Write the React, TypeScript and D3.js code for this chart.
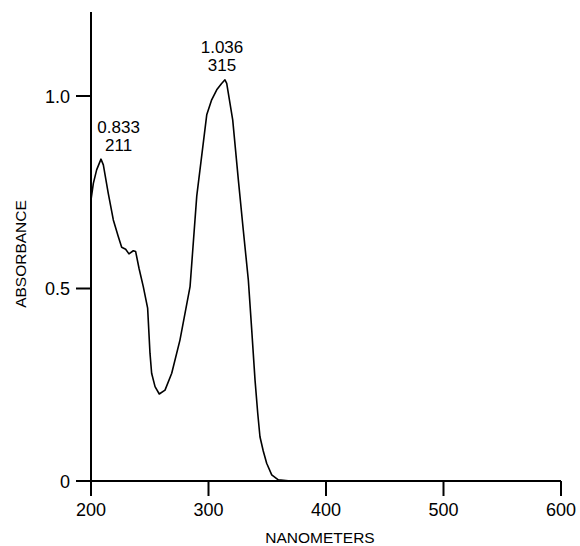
import React from "react";
import * as d3 from "d3";

const wavelengths = [200, 202, 204.8, 208.5, 210.5, 214.7, 219, 223.2, 226.1, 229.5, 232.3, 236, 238, 240.9, 244.5, 248.2, 250.2, 251.6, 254.5, 258.1, 263, 268.7, 275.7, 284.3, 290, 298.5, 302.7, 307, 311, 314, 315.5, 320.6, 325.4, 329.6, 333.9, 336.8, 339.6, 341.9, 343.8, 346.6, 349.5, 353.8, 359.4, 370, 600];
const absorbance = [0.73, 0.773, 0.808, 0.836, 0.821, 0.747, 0.678, 0.635, 0.607, 0.602, 0.59, 0.598, 0.596, 0.552, 0.505, 0.449, 0.332, 0.28, 0.245, 0.226, 0.236, 0.28, 0.366, 0.505, 0.74, 0.951, 0.99, 1.016, 1.032, 1.042, 1.033, 0.938, 0.782, 0.652, 0.522, 0.392, 0.262, 0.176, 0.115, 0.078, 0.046, 0.016, 0.003, 0, 0];

const xTicks = [200, 300, 400, 500, 600];
const yTicks = [0, 0.5, 1.0];
const yTickLabels = ["0", "0.5", "1.0"];

const peakValues = ["0.833", "1.036"];
const peakWavelengths = ["211", "315"];
const peakAbs = [0.833, 1.036];
const peakLabelNm = [223.5, 311.5];

export default function App() {
  const x = d3.scaleLinear().domain([200, 600]).range([91, 561]);
  const y = d3.scaleLinear().domain([0, 1]).range([481, 96]);
  const yTop = 1.218;
  const tick = 15;
  const data = wavelengths.map((w, i) => [w, absorbance[i]] as [number, number]);
  const line = d3
    .line<[number, number]>()
    .x((d) => x(d[0]))
    .y((d) => y(d[1]))
    .curve(d3.curveLinear);
  const font = "'Liberation Sans', Arial, Helvetica, sans-serif";

  return (
    <svg
      width={580}
      height={546}
      style={{ position: "absolute", left: 0, top: 0, background: "#fff" }}
      fontFamily={font}
    >
      <rect x={0} y={0} width={580} height={546} fill="#fff" />
      <line x1={x(200)} x2={x(200)} y1={y(yTop)} y2={y(0) + tick} stroke="#000" strokeWidth={2} />
      <line x1={x(200) - tick} x2={x(600)} y1={y(0)} y2={y(0)} stroke="#000" strokeWidth={2} />
      {xTicks.map((t) => (
        <g key={"x" + t}>
          <line x1={x(t)} x2={x(t)} y1={y(0)} y2={y(0) + tick} stroke="#000" strokeWidth={2} />
          <text x={x(t)} y={516} textAnchor="middle" fontSize={18} fill="#000">
            {t}
          </text>
        </g>
      ))}
      {yTicks.map((t, i) => (
        <g key={"y" + t}>
          <line x1={x(200) - tick} x2={x(200)} y1={y(t)} y2={y(t)} stroke="#000" strokeWidth={2} />
          <text x={70} y={y(t) + 6.5} textAnchor="end" fontSize={18} fill="#000">
            {yTickLabels[i]}
          </text>
        </g>
      ))}
      <text x={320} y={543} textAnchor="middle" fontSize={15.5} fill="#000">
        NANOMETERS
      </text>
      <text
        transform={`translate(26,254) rotate(-90)`}
        textAnchor="middle"
        fontSize={15.5}
        fill="#000"
      >
        ABSORBANCE
      </text>
      <path d={line(data) || ""} fill="none" stroke="#000" strokeWidth={1.6} strokeLinejoin="round" />
      {peakValues.map((v, i) => (
        <g key={v}>
          <text x={x(peakLabelNm[i])} y={y(peakAbs[i]) - (i === 0 ? 27 : 29)} textAnchor="middle" fontSize={17} fill="#000">
            {v}
          </text>
          <text x={x(peakLabelNm[i])} y={y(peakAbs[i]) - (i === 0 ? 9 : 11)} textAnchor="middle" fontSize={17} fill="#000">
            {peakWavelengths[i]}
          </text>
        </g>
      ))}
    </svg>
  );
}
